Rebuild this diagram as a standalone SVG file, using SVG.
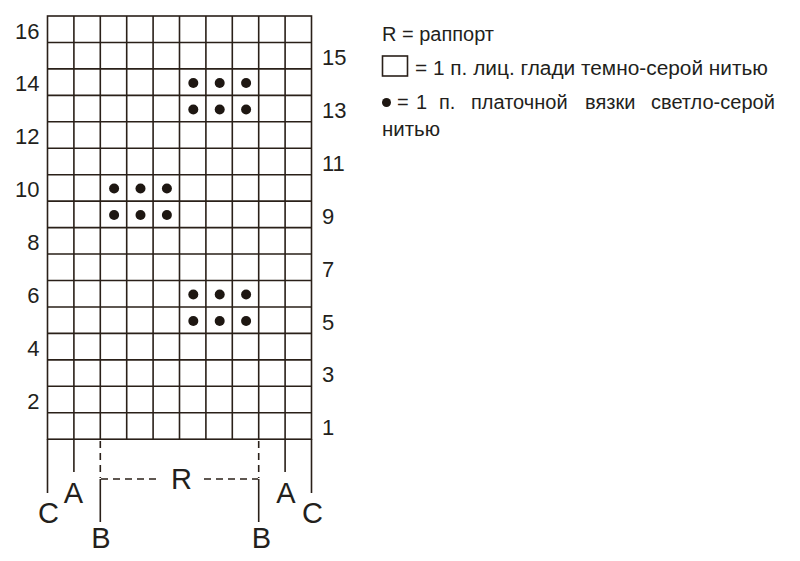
<svg xmlns="http://www.w3.org/2000/svg" width="800" height="561" viewBox="0 0 800 561">
<style>
.g{stroke:#2a2019;stroke-width:1.6;fill:none}
.d{stroke:#2a2019;stroke-width:1.6;fill:none;stroke-dasharray:7 5}
.n{font-family:"Liberation Sans",Arial,sans-serif;font-size:22px;fill:#231f1c}
.l{font-family:"Liberation Sans",Arial,sans-serif;font-size:29px;fill:#231f1c;text-anchor:middle}
.t{font-family:"Liberation Sans",Arial,sans-serif;font-size:20px;fill:#231f1c}
.dot{fill:#1e1712}
</style>
<rect width="800" height="561" fill="#ffffff"/>
<g id="grid">
<rect class="g" x="47.5" y="16" width="264" height="423.2"/>
<path class="g" d="M73.9 16V439.2M100.3 16V439.2M126.7 16V439.2M153.1 16V439.2M179.5 16V439.2M205.9 16V439.2M232.3 16V439.2M258.7 16V439.2M285.1 16V439.2"/>
<path class="g" d="M47.5 42.45H311.5M47.5 68.9H311.5M47.5 95.35H311.5M47.5 121.8H311.5M47.5 148.25H311.5M47.5 174.7H311.5M47.5 201.15H311.5M47.5 227.6H311.5M47.5 254.05H311.5M47.5 280.5H311.5M47.5 306.95H311.5M47.5 333.4H311.5M47.5 359.85H311.5M47.5 386.3H311.5M47.5 412.75H311.5"/>
</g>
<g id="dots">
<circle class="dot" cx="193.3" cy="83" r="5"/><circle class="dot" cx="219.7" cy="83" r="5"/><circle class="dot" cx="246.1" cy="83" r="5"/>
<circle class="dot" cx="193.3" cy="109.5" r="5"/><circle class="dot" cx="219.7" cy="109.5" r="5"/><circle class="dot" cx="246.1" cy="109.5" r="5"/>
<circle class="dot" cx="114.1" cy="188.5" r="5"/><circle class="dot" cx="140.5" cy="188.5" r="5"/><circle class="dot" cx="166.9" cy="188.5" r="5"/>
<circle class="dot" cx="114.1" cy="215" r="5"/><circle class="dot" cx="140.5" cy="215" r="5"/><circle class="dot" cx="166.9" cy="215" r="5"/>
<circle class="dot" cx="193.3" cy="294.5" r="5"/><circle class="dot" cx="219.7" cy="294.5" r="5"/><circle class="dot" cx="246.1" cy="294.5" r="5"/>
<circle class="dot" cx="193.3" cy="321" r="5"/><circle class="dot" cx="219.7" cy="321" r="5"/><circle class="dot" cx="246.1" cy="321" r="5"/>
</g>
<g id="row-numbers-left" class="n" text-anchor="end">
<text x="39.5" y="38.5">16</text>
<text x="39.5" y="91.4">14</text>
<text x="39.5" y="144.3">12</text>
<text x="39.5" y="197.2">10</text>
<text x="39.5" y="250.1">8</text>
<text x="39.5" y="303">6</text>
<text x="39.5" y="355.9">4</text>
<text x="39.5" y="408.8">2</text>
</g>
<g id="row-numbers-right" class="n">
<text x="322" y="65">15</text>
<text x="322" y="117.9">13</text>
<text x="322" y="170.8">11</text>
<text x="322" y="223.7">9</text>
<text x="322" y="276.6">7</text>
<text x="322" y="329.5">5</text>
<text x="322" y="382.4">3</text>
<text x="322" y="435.3">1</text>
</g>
<g id="connectors">
<path class="g" d="M47.5 439.2V493M73.9 439.2V472M285.1 439.2V472M311.5 439.2V493"/>
<path class="g" d="M100.3 479V522M258.7 479V522"/>
<path class="d" d="M100.3 441V478M258.7 441V478M101 479H156M204 479H258"/>
</g>
<g id="labels">
<text class="l" x="48.5" y="523">C</text>
<text class="l" x="73.5" y="503">A</text>
<text class="l" x="101" y="548">B</text>
<text class="l" x="181.5" y="489">R</text>
<text class="l" x="261.5" y="548">B</text>
<text class="l" x="286" y="503">A</text>
<text class="l" x="312.5" y="523">C</text>
</g>
<g id="legend">
<text class="t" x="382" y="40.5" textLength="112" lengthAdjust="spacingAndGlyphs">R = раппорт</text>
<rect class="g" x="382.5" y="56" width="25" height="20"/>
<text class="t" x="415" y="74.5" textLength="353" lengthAdjust="spacingAndGlyphs">= 1 п. лиц. глади темно-серой нитью</text>
<circle class="dot" cx="386.5" cy="102.5" r="4.5"/>
<text class="t" y="108.5"><tspan x="397">=</tspan><tspan x="416">1</tspan><tspan x="439">п.</tspan><tspan x="471">платочной</tspan><tspan x="585">вязки</tspan><tspan x="651">светло-серой</tspan></text>
<text class="t" x="382" y="135.5" textLength="58" lengthAdjust="spacingAndGlyphs">нитью</text>
</g>
</svg>
